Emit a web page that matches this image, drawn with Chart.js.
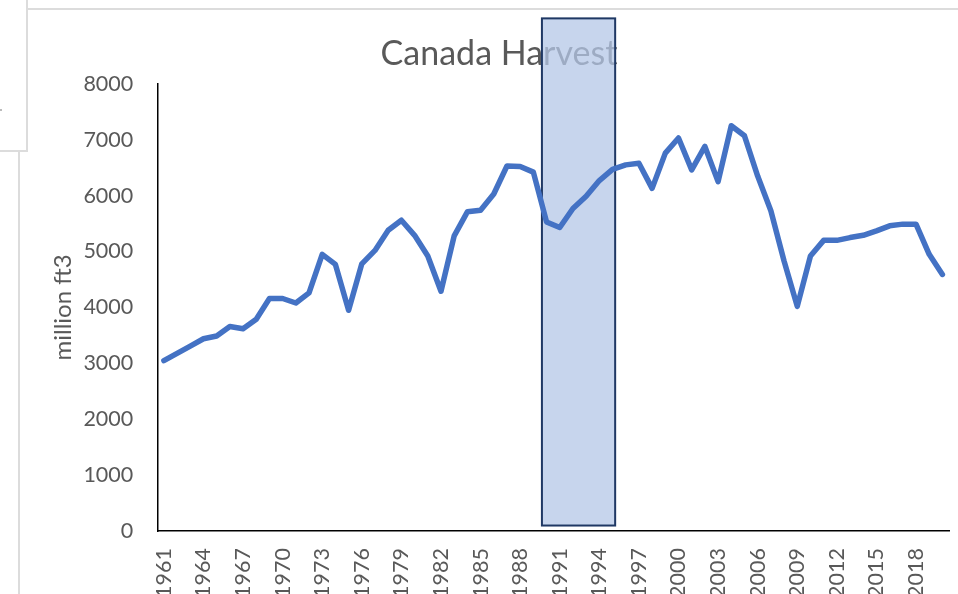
<!DOCTYPE html>
<html>
<head>
<meta charset="utf-8">
<script src="https://cdn.jsdelivr.net/npm/chart.js@4.4.1/dist/chart.umd.min.js"></script>
<style>
  html, body { margin: 0; padding: 0; background: #fff; width: 958px; height: 594px; overflow: hidden; position: relative; }
  #c { position: absolute; left: 28px; top: 0; }
  .f { position: absolute; background: #dcdcdc; z-index: 5; }
</style>
</head>
<body>
<canvas id="c" width="944" height="600"></canvas>
<div class="f" style="left:28px; top:8px; width:930px; height:2px;"></div>
<div class="f" style="left:0; top:0; width:26px; height:150px; background:#fff; border-right:2px solid #dcdcdc; border-bottom:2px solid #dcdcdc;"></div>
<div class="f" style="left:18px; top:152px; width:2px; height:442px;"></div>
<div class="f" style="left:0; top:109px; width:2px; height:2px; background:#bbb;"></div>
<script>
const years = ['1961','1962','1963','1964','1965','1966','1967','1968','1969','1970',
  '1971','1972','1973','1974','1975','1976','1977','1978','1979','1980',
  '1981','1982','1983','1984','1985','1986','1987','1988','1989','1990',
  '1991','1992','1993','1994','1995','1996','1997','1998','1999','2000',
  '2001','2002','2003','2004','2005','2006','2007','2008','2009','2010',
  '2011','2012','2013','2014','2015','2016','2017','2018','2019','2020'];

const harvest = [3050,3180,3310,3440,3490,3660,3620,3790,4160,4160,
  4080,4260,4950,4770,3950,4780,5020,5380,5560,5290,
  4920,4290,5280,5710,5740,6030,6530,6520,6420,5530,
  5430,5770,5990,6270,6470,6550,6580,6130,6760,7030,
  6460,6880,6250,7250,7070,6350,5730,4830,4020,4920,
  5200,5200,5250,5290,5370,5460,5490,5490,4950,4590];

const xTickLabels = ['1961','1964','1967','1970','1973','1976','1979','1982','1985','1988',
  '1991','1994','1997','2000','2003','2006','2009','2012','2015','2018'];

const yTicks = [0,1000,2000,3000,4000,5000,6000,7000,8000];

// highlighted period (in years) and vertical extent (in million ft3)
const highlightYears = [1989.65, 1995.2];
const highlightValues = [100, 9170];

const FONT = 'Lato, "Liberation Sans", sans-serif';
const TXT = '#595959';
const CLEAR = 'rgba(0,0,0,0)';

const highlightPlugin = {
  id: 'highlight',
  beforeDatasetsDraw(chart) {
    const xs = chart.scales.x, ys = chart.scales.y;
    const base = Number(years[0]);
    const x0 = xs.getPixelForValue(highlightYears[0] - base);
    const x1 = xs.getPixelForValue(highlightYears[1] - base);
    const y0 = ys.getPixelForValue(highlightValues[1]);
    const y1 = ys.getPixelForValue(highlightValues[0]);
    const ctx = chart.ctx;
    ctx.save();
    ctx.fillStyle = 'rgba(180,199,231,0.75)';
    ctx.fillRect(x0, y0, x1 - x0, y1 - y0);
    ctx.strokeStyle = '#1F3864';
    ctx.lineWidth = 2;
    ctx.strokeRect(x0, y0, x1 - x0, y1 - y0);
    ctx.restore();
  }
};

new Chart(document.getElementById('c'), {
  type: 'line',
  data: {
    labels: years,
    datasets: [{
      data: harvest,
      borderColor: '#4472C4',
      borderWidth: 5.5,
      pointRadius: 0,
      tension: 0,
      fill: false,
      borderJoinStyle: 'round',
      borderCapStyle: 'round'
    }]
  },
  options: {
    responsive: false,
    devicePixelRatio: 1,
    animation: false,
    layout: { padding: { left: 21, right: 23, top: 0, bottom: 2 } },
    plugins: {
      legend: { display: false },
      tooltip: { enabled: false },
      title: {
        display: true,
        text: 'Canada Harvest',
        color: TXT,
        font: { family: FONT, size: 34, weight: 'normal' },
        padding: { top: 34, bottom: 9 }
      }
    },
    scales: {
      x: {
        type: 'category',
        offset: true,
        grid: { display: false, drawTicks: true, tickLength: 17, color: CLEAR },
        border: { display: true, color: '#000', width: 1.5 },
        ticks: {
          autoSkip: false,
          minRotation: 90,
          maxRotation: 90,
          padding: 0,
          color: TXT,
          font: { family: FONT, size: 21.5 },
          callback(val) {
            const l = this.getLabelForValue(val);
            return xTickLabels.includes(l) ? l : '';
          }
        }
      },
      y: {
        min: yTicks[0],
        max: yTicks[yTicks.length - 1],
        afterBuildTicks(scale) { scale.ticks = yTicks.map(v => ({ value: v })); },
        grid: { display: false, drawTicks: true, tickLength: 18.4, color: CLEAR },
        border: { display: true, color: '#000', width: 1.5 },
        ticks: {
          padding: 5.6,
          color: TXT,
          font: { family: FONT, size: 21.5 },
          callback(v) { return String(v); }
        },
        title: {
          display: true,
          text: 'million ft3',
          color: TXT,
          font: { family: FONT, size: 24 },
          padding: { top: 0, bottom: 0 }
        }
      }
    }
  },
  plugins: [highlightPlugin]
});
</script>
</body>
</html>
